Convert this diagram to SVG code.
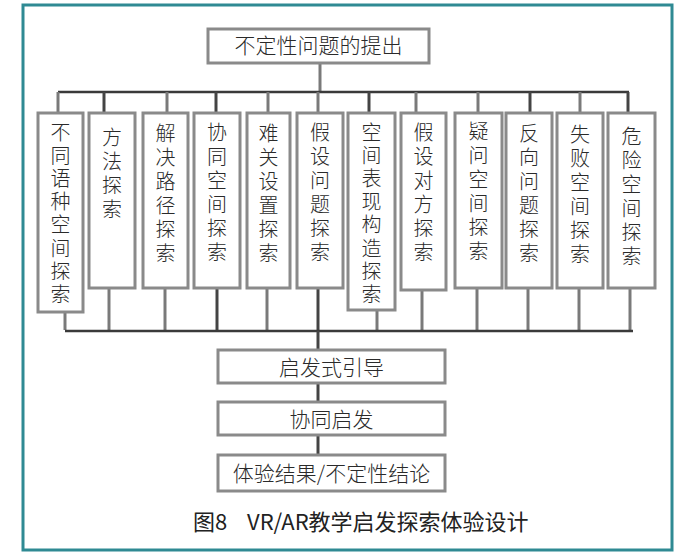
<svg xmlns="http://www.w3.org/2000/svg" width="688" height="560" viewBox="0 0 688 560">
<style>
.frame{fill:#ffffff;stroke:#2f8a93;stroke-width:3}
.box{fill:#ffffff;stroke:#8a8a8a;stroke-width:3}
.bus{stroke:#3a3a3a;stroke-width:2.5;fill:none}
.tick{stroke:#7a7a7a;stroke-width:3;fill:none}
.dk{stroke:#444}
.t{font-family:"Noto Sans CJK SC","Noto Sans",sans-serif;font-size:21px;font-weight:300;fill:#2a2a2a}
.v{font-family:"Noto Sans CJK SC","Noto Sans",sans-serif;font-size:20px;font-weight:300;fill:#2a2a2a;writing-mode:vertical-rl;letter-spacing:4px}
.v8{letter-spacing:3.2px}
.cap{font-family:"Noto Sans CJK SC","Liberation Sans",sans-serif;font-size:22px;fill:#222}
</style>
<rect width="688" height="560" fill="#ffffff"/>
<rect class="frame" x="23" y="5" width="649" height="545"/>

<g id="connectors">
  <line class="tick" x1="320" y1="63" x2="320" y2="92"/>
  <line class="bus" x1="58" y1="92" x2="629" y2="92"/>
  <line class="tick" x1="58" y1="92" x2="58" y2="113"/>
  <line class="tick dk" x1="104" y1="92" x2="104" y2="113"/>
  <line class="tick" x1="167" y1="92" x2="167" y2="113"/>
  <line class="tick dk" x1="216" y1="92" x2="216" y2="113"/>
  <line class="tick" x1="268" y1="92" x2="268" y2="113"/>
  <line class="tick" x1="318" y1="92" x2="318" y2="113"/>
  <line class="tick dk" x1="369" y1="92" x2="369" y2="113"/>
  <line class="tick" x1="416" y1="92" x2="416" y2="113"/>
  <line class="tick" x1="478" y1="92" x2="478" y2="113"/>
  <line class="tick dk" x1="530" y1="92" x2="530" y2="113"/>
  <line class="tick" x1="580" y1="92" x2="580" y2="113"/>
  <line class="tick dk" x1="628" y1="92" x2="628" y2="113"/>

  <line class="tick" x1="65" y1="312" x2="65" y2="330"/>
  <line class="tick" x1="109" y1="288" x2="109" y2="330"/>
  <line class="tick" x1="165" y1="288" x2="165" y2="330"/>
  <line class="tick dk" x1="217" y1="288" x2="217" y2="330"/>
  <line class="tick" x1="267" y1="288" x2="267" y2="330"/>
  <line class="tick dk" x1="318" y1="288" x2="318" y2="330"/>
  <line class="tick" x1="377" y1="310" x2="377" y2="330"/>
  <line class="tick" x1="422" y1="290" x2="422" y2="330"/>
  <line class="tick" x1="477" y1="288" x2="477" y2="330"/>
  <line class="tick" x1="528" y1="288" x2="528" y2="330"/>
  <line class="tick" x1="579" y1="288" x2="579" y2="330"/>
  <line class="tick" x1="630" y1="288" x2="630" y2="330"/>
  <line class="bus" x1="65" y1="331" x2="633" y2="331"/>

  <line class="tick dk" x1="318" y1="331" x2="318" y2="350"/>
  <line class="tick dk" x1="318" y1="383" x2="318" y2="402"/>
  <line class="tick dk" x1="318" y1="435" x2="318" y2="455"/>
</g>

<g id="n-top">
  <rect class="box" x="208" y="29" width="221" height="34"/>
  <text class="t" x="318.5" y="53" text-anchor="middle">不定性问题的提出</text>
</g>

<g id="n1">
  <rect class="box" x="38" y="113" width="45" height="199"/>
  <text class="v v8" x="60.5" y="122">不同语种空间探索</text>
</g>
<g id="n2">
  <rect class="box" x="89" y="113" width="46" height="175"/>
  <text class="v" x="112" y="127">方法探索</text>
</g>
<g id="n3">
  <rect class="box" x="143" y="113" width="45" height="175"/>
  <text class="v" x="165.5" y="123">解决路径探索</text>
</g>
<g id="n4">
  <rect class="box" x="194" y="113" width="46" height="175"/>
  <text class="v" x="217" y="122">协同空间探索</text>
</g>
<g id="n5">
  <rect class="box" x="247" y="113" width="43" height="175"/>
  <text class="v" x="268.5" y="123">难关设置探索</text>
</g>
<g id="n6">
  <rect class="box" x="297" y="113" width="46" height="175"/>
  <text class="v" x="320" y="122">假设问题探索</text>
</g>
<g id="n7">
  <rect class="box" x="348" y="113" width="47" height="197"/>
  <text class="v v8" x="371.5" y="122">空间表现构造探索</text>
</g>
<g id="n8">
  <rect class="box" x="401" y="113" width="45" height="177"/>
  <text class="v" x="423.5" y="122">假设对方探索</text>
</g>
<g id="n9">
  <rect class="box" x="455" y="113" width="47" height="175"/>
  <text class="v" x="478.5" y="121">疑问空间探索</text>
</g>
<g id="n10">
  <rect class="box" x="506" y="113" width="46" height="175"/>
  <text class="v" x="529" y="123">反向问题探索</text>
</g>
<g id="n11">
  <rect class="box" x="557" y="113" width="46" height="175"/>
  <text class="v" x="580" y="124">失败空间探索</text>
</g>
<g id="n12">
  <rect class="box" x="608" y="113" width="47" height="175"/>
  <text class="v" x="631.5" y="126">危险空间探索</text>
</g>

<g id="n-guide">
  <rect class="box" x="218" y="350" width="227" height="33"/>
  <text class="t" x="331.5" y="375" text-anchor="middle">启发式引导</text>
</g>
<g id="n-collab">
  <rect class="box" x="218" y="402" width="227" height="33"/>
  <text class="t" x="331.5" y="427" text-anchor="middle">协同启发</text>
</g>
<g id="n-result">
  <rect class="box" x="218" y="455" width="227" height="36"/>
  <text class="t" x="331.5" y="481" text-anchor="middle">体验结果/不定性结论</text>
</g>

<text class="cap" x="193" y="530">图8<tspan x="247">VR/AR教学启发探索体验设计</tspan></text>
</svg>
